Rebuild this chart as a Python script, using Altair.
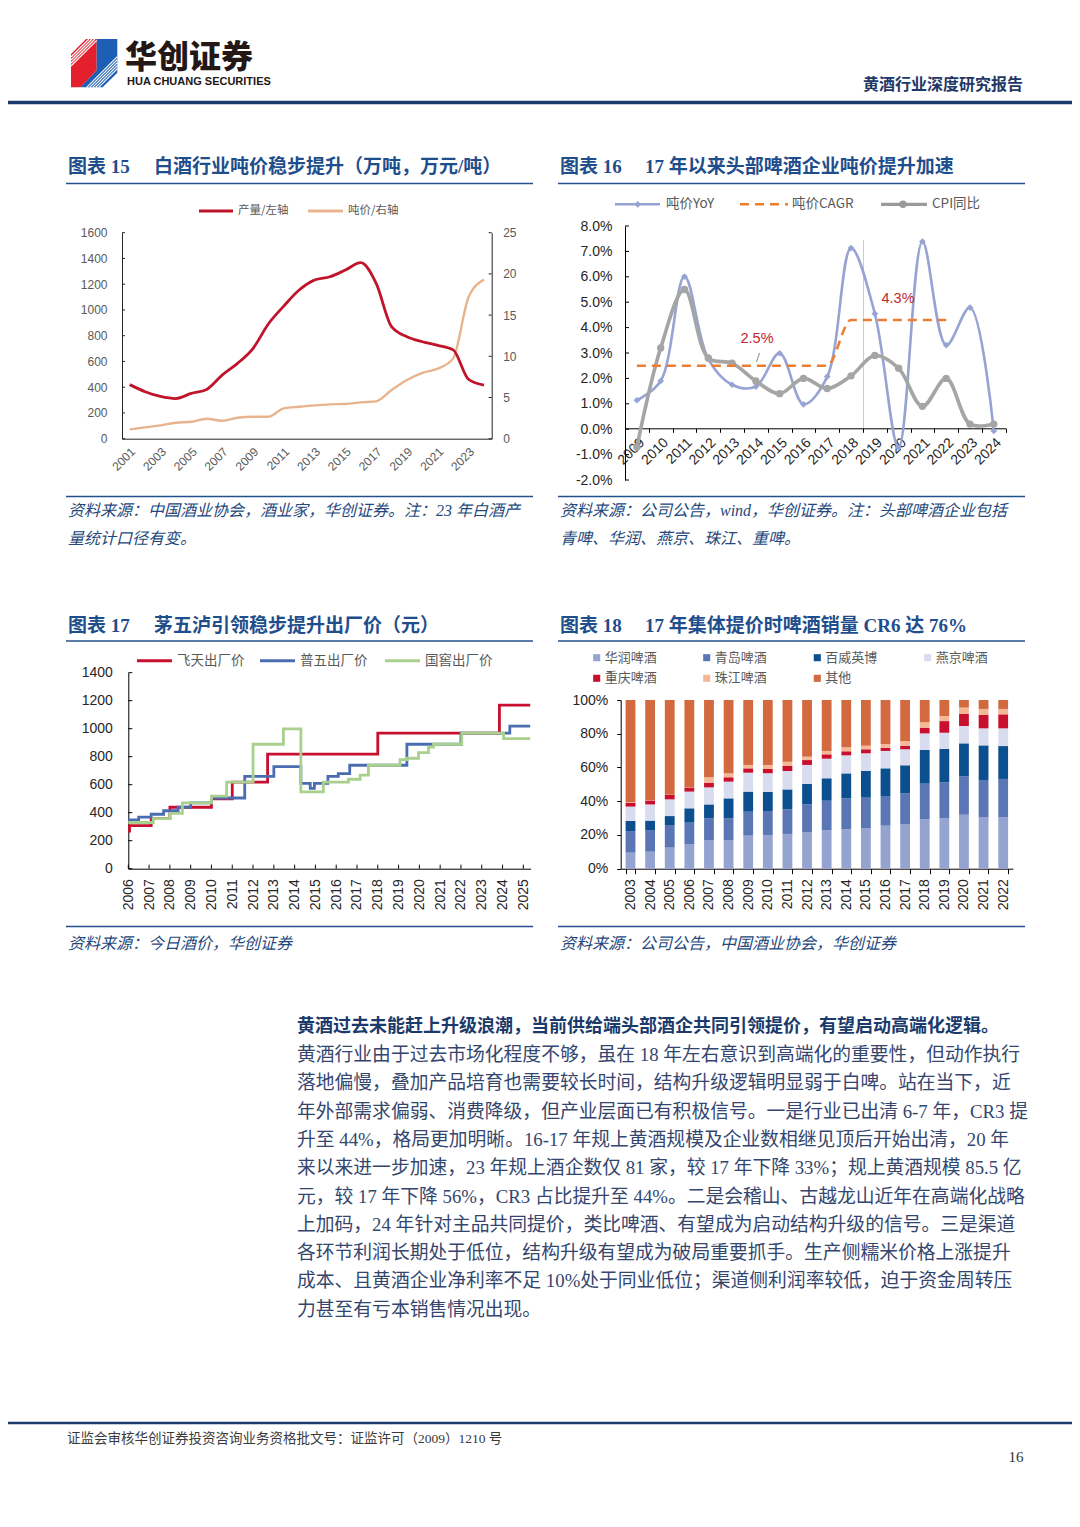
import altair as alt
import pandas as pd

W, H = 1064, 1505
CJK = "Noto Sans CJK SC"
LAT = "Liberation Sans"
SERIF_MIX = "Liberation Serif, Noto Sans CJK SC"

# ------------------------------------------------------------------ data
years15 = list(range(2001, 2025))
prod15 = [420, 365, 328, 312, 352, 383, 494, 585, 700, 891, 1030, 1155, 1232, 1258, 1310, 1367,
          1206, 870, 792, 753, 725, 690, 461, 417]
price15 = [1.13, 1.38, 1.62, 1.94, 2.06, 2.43, 2.18, 2.55, 2.67, 2.67, 3.68, 3.88, 4.05, 4.17,
           4.21, 4.41, 4.53, 5.9, 7.12, 8.0, 8.5, 9.75, 17.2, 19.3]
ticks15_left = [0, 200, 400, 600, 800, 1000, 1200, 1400, 1600]
ticks15_right = [0, 5, 10, 15, 20, 25]
labels15_x = [2001, 2003, 2005, 2007, 2009, 2011, 2013, 2015, 2017, 2019, 2021, 2023]

years16 = list(range(2009, 2025))
yoy16 = [1.14, 1.90, 6.01, 2.76, 1.75, 1.68, 2.99, 0.98, 2.07, 7.13, 4.55, -0.72, 7.39, 3.31, 4.79, -0.07]
cpi16 = [-0.7, 3.2, 5.5, 2.8, 2.6, 1.9, 1.4, 2.0, 1.6, 2.1, 2.9, 2.4, 0.9, 2.0, 0.2, 0.2]
cagr_years16 = list(range(2009, 2023))
cagr16 = [2.5, 2.5, 2.5, 2.5, 2.5, 2.5, 2.5, 2.5, 2.5, 4.3, 4.3, 4.3, 4.3, 4.3]
ticks16 = [-2, -1, 0, 1, 2, 3, 4, 5, 6, 7, 8]

feitian_t = [2006.0, 2006.06, 2007.1, 2008.0, 2010.0, 2011.0, 2012.7, 2018.0, 2023.85, 2025.33]
feitian_v = [268, 308, 358, 439, 499, 619, 819, 969, 1169, 1169]
wuliang_t = [2006.0, 2006.5, 2007.1, 2007.7, 2008.4, 2009.0, 2010.0, 2011.6, 2013.0, 2014.3, 2014.75,
             2014.95, 2015.6, 2016.1, 2016.65, 2019.4, 2022.0, 2024.35, 2025.33]
wuliang_v = [348, 368, 389, 414, 439, 470, 505, 659, 729, 609, 574, 609, 659, 679, 739, 889, 969, 1019, 1019]
guojiao_t = [2006.0, 2007.2, 2008.0, 2008.6, 2010.0, 2010.73, 2012.0, 2013.46, 2014.3, 2015.38, 2016.59,
             2017.15, 2017.55, 2019.07, 2019.4, 2019.96, 2020.44, 2020.68, 2022.04, 2024.05, 2025.33]
guojiao_v = [330, 358, 395, 470, 519, 619, 889, 999, 549, 619, 639, 669, 739, 779, 789, 829, 869, 889,
             969, 929, 929]
ticks17_y = [0, 200, 400, 600, 800, 1000, 1200, 1400]
ticks17_x = list(range(2006, 2026))

years18 = list(range(2003, 2023))
brands18 = ["华润啤酒", "青岛啤酒", "百威英博", "燕京啤酒", "重庆啤酒", "珠江啤酒", "其他"]
huarun = [9.5, 10.1, 12.5, 14.4, 17.0, 17.0, 19.6, 20.0, 20.6, 21.5, 22.9, 23.3, 24.1, 25.5, 26.5, 29.2, 29.8, 32.0, 30.4, 30.4]
qingdao = [12.8, 12.8, 13.4, 12.9, 12.8, 12.8, 14.2, 14.2, 14.6, 16.6, 17.4, 18.4, 18.0, 17.6, 18.2, 21.2, 21.4, 22.7, 22.2, 22.8]
baiwei = [6.0, 5.6, 5.3, 8.5, 8.3, 11.9, 11.9, 11.3, 11.8, 12.1, 13.3, 14.8, 15.8, 16.4, 16.6, 20.0, 19.8, 19.6, 20.5, 19.5]
yanjing = [8.5, 9.6, 9.9, 9.9, 10.1, 9.9, 11.2, 11.1, 10.9, 11.3, 11.6, 10.7, 10.5, 10.3, 9.5, 9.8, 9.6, 10.3, 10.1, 10.5]
chongqing = [2.3, 2.4, 2.6, 2.5, 2.8, 2.6, 2.6, 2.5, 3.0, 2.9, 2.6, 2.4, 2.4, 1.9, 2.1, 3.4, 6.9, 7.1, 7.9, 8.3]
zhujiang = [0.3, 0.2, 0.2, 0.2, 3.2, 2.3, 2.0, 2.4, 2.5, 2.0, 2.0, 2.4, 2.1, 2.2, 2.8, 3.2, 3.0, 3.8, 3.6, 3.2]
qita = [60.6, 59.3, 56.1, 51.6, 45.8, 43.5, 38.5, 38.5, 36.6, 33.6, 30.2, 28.0, 27.1, 26.1, 24.3, 13.2, 9.5, 4.5, 5.3, 5.3]
ticks18 = [0, 20, 40, 60, 80, 100]

body_head = "黄酒过去未能赶上升级浪潮，当前供给端头部酒企共同引领提价，有望启动高端化逻辑。"
body_lines = [
    "黄酒行业由于过去市场化程度不够，虽在 18 年左右意识到高端化的重要性，但动作执行",
    "落地偏慢，叠加产品培育也需要较长时间，结构升级逻辑明显弱于白啤。站在当下，近",
    "年外部需求偏弱、消费降级，但产业层面已有积极信号。一是行业已出清 6-7 年，CR3 提",
    "升至 44%，格局更加明晰。16-17 年规上黄酒规模及企业数相继见顶后开始出清，20 年",
    "来以来进一步加速，23 年规上酒企数仅 81 家，较 17 年下降 33%；规上黄酒规模 85.5 亿",
    "元，较 17 年下降 56%，CR3 占比提升至 44%。二是会稽山、古越龙山近年在高端化战略",
    "上加码，24 年针对主品共同提价，类比啤酒、有望成为启动结构升级的信号。三是渠道",
    "各环节利润长期处于低位，结构升级有望成为破局重要抓手。生产侧糯米价格上涨提升",
    "成本、且黄酒企业净利率不足 10%处于同业低位；渠道侧利润率较低，迫于资金周转压",
    "力甚至有亏本销售情况出现。",
]

# ------------------------------------------------------------------ helpers
def X(p):
    return p - 8


def Y(p):
    return p - 8


def off_bottom(py):
    return Y(py) - H


def off_left(px):
    return -X(px)


def off_right(px):
    return X(px) - W


layers = []


def text(s, x, y, size, color, weight="normal", align="left", font=CJK, style="normal"):
    layers.append(alt.Chart(pd.DataFrame({"t": [s]})).mark_text(
        align=align, baseline="middle", fontSize=size, font=font, color=color,
        fontWeight=weight, fontStyle=style).encode(
        x=alt.value(X(x)), y=alt.value(Y(y)), text="t:N"))


def rule(x1, y1, x2, y2, color, width=1.0, dash=None):
    kw = dict(color=color, strokeWidth=width)
    if dash:
        kw["strokeDash"] = dash
    layers.append(alt.Chart(pd.DataFrame({"k": [0]})).mark_rule(**kw).encode(
        x=alt.value(X(x1)), y=alt.value(Y(y1)), x2=alt.value(X(x2)), y2=alt.value(Y(y2))))


def symbol(x, y, shape, size, color, filled=True, stroke_w=1.0):
    kw = dict(shape=shape, size=size, opacity=1)
    if filled:
        kw.update(filled=True, color=color, strokeWidth=0)
    else:
        kw.update(filled=False, color=color, strokeWidth=stroke_w)
    layers.append(alt.Chart(pd.DataFrame({"k": [0]})).mark_point(**kw).encode(
        x=alt.value(X(x)), y=alt.value(Y(y))))


TITLE = "#1f4e8c"
RULEC = "#23508a"
SRC = "#24487c"
NAVY = "#1c3a6b"
GRAYT = "#595959"
AXC = "#262626"

# ------------------------------------------------------------------ header (logo)
cx, cy, U = 94.2, 63.0, 25.0


def up(pts):
    return "M" + "L".join(f"{(px - cx) / U:.3f},{(py - cy) / U:.3f}" for px, py in pts) + "Z"


red_poly = up([(71, 54), (86, 39), (96.7, 39), (96.7, 70.5), (80.5, 87.3), (71, 87.3)])
blue_poly = up([(96.7, 39), (117.3, 39), (117.3, 72.7), (102.7, 87.3), (80.5, 87.3), (96.7, 70.5)])
stripes = ""
for c in [128, 131, 134, 137]:
    x2 = min(c - 39, 96.7)
    stripes += f"M{(71 - cx) / U:.3f},{(c - 71 - cy) / U:.3f}L{(x2 - cx) / U:.3f},{(c - x2 - cy) / U:.3f}"
for c in [174, 177, 180, 183, 186]:
    x1 = max(c - 87.3, 80.5)
    x2 = min(c - 39, 117.3)
    stripes += f"M{(x1 - cx) / U:.3f},{(c - x1 - cy) / U:.3f}L{(x2 - cx) / U:.3f},{(c - x2 - cy) / U:.3f}"
symbol(cx, cy, red_poly, 2500, "#e5202e")
symbol(cx, cy, blue_poly, 2500, "#1d5fb4")
symbol(cx, cy, stripes, 2500, "#ffffff", filled=False, stroke_w=1.2)

text("华创证券", 125, 58, 32, "#231815", weight=900)
text("HUA CHUANG SECURITIES", 127, 81.5, 11, "#231815", weight="bold", font=LAT)
text("黄酒行业深度研究报告", 1023, 85, 16, "#1f3864", weight="bold", align="right")
rule(8, 102.5, 1072, 102.5, NAVY, 3.5)

# ------------------------------------------------------------------ section titles / rules / sources
for (lx, rx, ty, num, main) in [
    (68, 154, 167, "图表 15", "白酒行业吨价稳步提升（万吨，万元/吨）"),
    (560, 645, 167, "图表 16", "17 年以来头部啤酒企业吨价提升加速"),
    (68, 154, 626, "图表 17", "茅五泸引领稳步提升出厂价（元）"),
    (560, 645, 626, "图表 18", "17 年集体提价时啤酒销量 CR6 达 76%"),
]:
    text(num, lx, ty, 19, TITLE, weight="bold", font=SERIF_MIX)
    text(main, rx, ty, 19, TITLE, weight="bold", font=SERIF_MIX)

for x1, x2 in [(66, 533), (558, 1025)]:
    rule(x1, 183.5, x2, 183.5, RULEC, 1.6)
    rule(x1, 496.5, x2, 496.5, RULEC, 1.6)
    rule(x1, 641, x2, 641, RULEC, 1.6)
    rule(x1, 926.5, x2, 926.5, RULEC, 1.6)

SRC_SIZE = 16
text("资料来源：中国酒业协会，酒业家，华创证券。注：23 年白酒产", 68, 511, SRC_SIZE, SRC, style="italic", font=SERIF_MIX)
text("量统计口径有变。", 68, 539, SRC_SIZE, SRC, style="italic", font=SERIF_MIX)
text("资料来源：公司公告，wind，华创证券。注：头部啤酒企业包括", 560, 511, SRC_SIZE, SRC, style="italic", font=SERIF_MIX)
text("青啤、华润、燕京、珠江、重啤。", 560, 539, SRC_SIZE, SRC, style="italic", font=SERIF_MIX)
text("资料来源：今日酒价，华创证券", 68, 944, SRC_SIZE, SRC, style="italic", font=SERIF_MIX)
text("资料来源：公司公告，中国酒业协会，华创证券", 560, 944, SRC_SIZE, SRC, style="italic", font=SERIF_MIX)

# ------------------------------------------------------------------ chart 15
sx15 = alt.Scale(type="band", domain=years15, range=[X(122), X(491.7)], paddingInner=0, paddingOuter=0)
syl15 = alt.Scale(domain=[0, 1600], range=[Y(438.7), Y(232.7)], nice=False, zero=False)
syr15 = alt.Scale(domain=[0, 25], range=[Y(438.7), Y(232.7)], nice=False, zero=False)
df15 = pd.DataFrame({"year": years15, "prod": prod15, "price": price15})
ax_common = dict(grid=False, title=None, labelFont=LAT, domainColor=AXC, domainWidth=1, tickColor=AXC)

layers.append(alt.Chart(df15).mark_line(color="#e8b48e", strokeWidth=2.4, interpolate="monotone").encode(
    x=alt.X("year:O", scale=sx15, bandPosition=0.5, axis=None),
    y=alt.Y("price:Q", scale=syr15, axis=alt.Axis(
        orient="right", offset=off_right(491.7), values=ticks15_right, tickSize=0, labelPadding=11,
        labelFontSize=12, labelColor=GRAYT, **ax_common))))
layers.append(alt.Chart(df15).mark_line(color="#c0142b", strokeWidth=2.8, interpolate="monotone").encode(
    x=alt.X("year:O", scale=sx15, bandPosition=0.5, axis=alt.Axis(
        orient="bottom", offset=off_bottom(438.7), values=labels15_x, labelAngle=-45, tickSize=0,
        labelPadding=7, labelFontSize=12, labelColor=GRAYT, **ax_common)),
    y=alt.Y("prod:Q", scale=syl15, axis=alt.Axis(
        orient="left", offset=off_left(122), values=ticks15_left, tickSize=0, labelPadding=15,
        format="d", labelFontSize=12, labelColor=GRAYT, **ax_common))))
layers.append(alt.Chart(pd.DataFrame({"v": ticks15_left})).mark_rule(color=AXC, strokeWidth=1).encode(
    y=alt.Y("v:Q", scale=syl15, axis=None), x=alt.value(X(122)), x2=alt.value(X(125))))
layers.append(alt.Chart(pd.DataFrame({"v": ticks15_right})).mark_rule(color=AXC, strokeWidth=1).encode(
    y=alt.Y("v:Q", scale=syr15, axis=None), x=alt.value(X(488.7)), x2=alt.value(X(491.7))))

rule(199, 211, 233, 211, "#c0142b", 3)
text("产量/左轴", 238, 211, 11.5, GRAYT)
rule(308, 211, 343, 211, "#e8b48e", 3)
text("吨价/右轴", 348, 211, 11.5, GRAYT)

# ------------------------------------------------------------------ chart 16
YOYC, CPIC, CAGRC = "#97a3d3", "#a5a5a5", "#ed7d31"
sx16 = alt.Scale(type="band", domain=years16, range=[X(625), X(1005.7)], paddingInner=0, paddingOuter=0)
sy16 = alt.Scale(domain=[-2, 8], range=[Y(480), Y(226)], nice=False, zero=False)
df16 = pd.DataFrame({"year": years16, "yoy": yoy16, "cpi": cpi16})
dfc16 = pd.DataFrame({"year": cagr_years16, "cagr": cagr16})
ax16 = dict(grid=False, title=None, labelFont=LAT, domainColor="#000000", domainWidth=1,
            tickColor="#000000", labelColor="#262626", labelFontSize=14)

rule(863.5, 240, 863.5, 428, "#bfbfbf", 0.8)
layers.append(alt.Chart(df16).mark_line(color=YOYC, strokeWidth=2.6, interpolate="catmull-rom").encode(
    x=alt.X("year:O", scale=sx16, bandPosition=0.5, axis=alt.Axis(
        orient="bottom", offset=off_bottom(428.3), tickBand="extent", tickSize=4, labelAngle=-45,
        labelPadding=3, **ax16)),
    y=alt.Y("yoy:Q", scale=sy16, axis=alt.Axis(
        orient="left", offset=off_left(625), values=ticks16, tickSize=0, labelPadding=13,
        labelExpr="replace(format(datum.value, '.1f'), '\u2212', '-') + '%'", **ax16))))
layers.append(alt.Chart(df16).mark_point(shape="diamond", filled=True, size=45, color=YOYC, opacity=1).encode(
    x=alt.X("year:O", scale=sx16, bandPosition=0.5, axis=None),
    y=alt.Y("yoy:Q", scale=sy16, axis=None)))
layers.append(alt.Chart(df16).mark_line(color=CPIC, strokeWidth=3.6, interpolate="catmull-rom").encode(
    x=alt.X("year:O", scale=sx16, bandPosition=0.5, axis=None),
    y=alt.Y("cpi:Q", scale=sy16, axis=None)))
layers.append(alt.Chart(df16).mark_point(shape="circle", filled=True, size=55, color=CPIC, opacity=1).encode(
    x=alt.X("year:O", scale=sx16, bandPosition=0.5, axis=None),
    y=alt.Y("cpi:Q", scale=sy16, axis=None)))
layers.append(alt.Chart(dfc16).mark_line(color=CAGRC, strokeWidth=2.6, strokeDash=[9, 6],
                                         interpolate="monotone").encode(
    x=alt.X("year:O", scale=sx16, bandPosition=0.5, axis=None),
    y=alt.Y("cagr:Q", scale=sy16, axis=None)))
layers.append(alt.Chart(pd.DataFrame({"v": ticks16})).mark_rule(color="#000000", strokeWidth=1).encode(
    y=alt.Y("v:Q", scale=sy16, axis=None), x=alt.value(X(625)), x2=alt.value(X(629))))

text("2.5%", 757, 339, 14.5, "#c0272d", align="center", font=LAT)
text("4.3%", 898, 299, 14.5, "#c0272d", align="center", font=LAT)
rule(756.5, 362, 759.5, 353, "#8c8c8c", 1)

rule(615, 204.3, 660, 204.3, YOYC, 2.6)
symbol(637.7, 204.3, "diamond", 45, YOYC)
text("吨价YoY", 666, 204.3, 13.5, GRAYT)
rule(740, 204.3, 788, 204.3, CAGRC, 2.6, dash=[9, 6])
text("吨价CAGR", 792, 204.3, 13.5, GRAYT)
rule(881, 204.3, 927, 204.3, "#9a9a9a", 3.2)
symbol(903, 204.3, "circle", 55, "#9a9a9a")
text("CPI同比", 932, 204.3, 13.5, GRAYT)

# ------------------------------------------------------------------ chart 17
sx17 = alt.Scale(domain=[2006, 2025.35], range=[X(128.3), X(530.6)], nice=False, zero=False)
sy17 = alt.Scale(domain=[0, 1400], range=[Y(868.7), Y(672.7)], nice=False, zero=False)
ax17 = dict(grid=False, title=None, labelFont=LAT, domainColor="#000000", domainWidth=1,
            tickColor="#000000", labelColor="#262626", labelFontSize=14)
series17 = [("飞天出厂价", feitian_t, feitian_v, "#c8102e"),
            ("普五出厂价", wuliang_t, wuliang_v, "#4a6cb0"),
            ("国窖出厂价", guojiao_t, guojiao_v, "#a9d18e")]
for i, (name, ts, vs, col) in enumerate(series17):
    d = pd.DataFrame({"t": ts, "v": vs})
    if i == 0:
        xax = alt.Axis(orient="bottom", offset=off_bottom(868.7), values=ticks17_x, format="d",
                       labelAngle=-90, tickSize=0, labelPadding=10, **ax17)
        yax = alt.Axis(orient="left", offset=off_left(128.3), values=ticks17_y, format="d",
                       tickSize=0, labelPadding=16, **ax17)
    else:
        xax = None
        yax = None
    layers.append(alt.Chart(d).mark_line(color=col, strokeWidth=2.8, interpolate="step-after").encode(
        x=alt.X("t:Q", scale=sx17, axis=xax), y=alt.Y("v:Q", scale=sy17, axis=yax)))
layers.append(alt.Chart(pd.DataFrame({"v": ticks17_y})).mark_rule(color="#000000", strokeWidth=1).encode(
    y=alt.Y("v:Q", scale=sy17, axis=None), x=alt.value(X(128.3)), x2=alt.value(X(132.3))))
layers.append(alt.Chart(pd.DataFrame({"v": ticks17_x})).mark_rule(color="#000000", strokeWidth=1).encode(
    x=alt.X("v:Q", scale=sx17, axis=None), y=alt.value(Y(864.7)), y2=alt.value(Y(868.7))))

for (x0, name, col) in [(137, "飞天出厂价", "#c8102e"), (260, "普五出厂价", "#4a6cb0"), (385, "国窖出厂价", "#a9d18e")]:
    rule(x0, 660.7, x0 + 35, 660.7, col, 3)
    text(name, x0 + 40, 660.7, 13.5, GRAYT)

# ------------------------------------------------------------------ chart 18
colors18 = ["#95a3d1", "#5a76b5", "#0b4f8e", "#d9dcee", "#c8102e", "#f4b896", "#d2693f"]
sx18 = alt.Scale(type="band", domain=years18, range=[X(620.7), X(1013)], paddingInner=0.5, paddingOuter=0.25)
sy18 = alt.Scale(domain=[0, 100], range=[Y(868.7), Y(700)], nice=False, zero=True)
rows = []
for k, (b, vals) in enumerate(zip(brands18, [huarun, qingdao, baiwei, yanjing, chongqing, zhujiang, qita])):
    for yr, v in zip(years18, vals):
        rows.append({"year": yr, "brand": b, "k": k, "v": v})
df18 = pd.DataFrame(rows)
layers.append(alt.Chart(df18).mark_bar().encode(
    x=alt.X("year:O", scale=sx18, axis=alt.Axis(
        orient="bottom", offset=off_bottom(868.7), tickBand="extent", tickSize=5, labelAngle=-90,
        labelPadding=5, **ax17)),
    y=alt.Y("v:Q", stack="zero", scale=sy18, axis=alt.Axis(
        orient="left", offset=off_left(620.7), values=ticks18, tickSize=4, labelPadding=9,
        labelExpr="datum.value + '%'", **ax17)),
    color=alt.Color("brand:N", scale=alt.Scale(domain=brands18, range=colors18), legend=None),
    order=alt.Order("k:Q", sort="ascending")))

leg_pos = [(596.7, 657.7), (706.7, 657.7), (817.3, 657.7), (927.7, 657.7),
           (596.7, 678.3), (706.7, 678.3), (817.3, 678.3)]
for (lx, ly), b, col in zip(leg_pos, brands18, colors18):
    symbol(lx, ly, "square", 50, col)
    text(b, lx + 8, ly, 13, GRAYT)

# ------------------------------------------------------------------ body text
text(body_head, 297, 1027, 18, "#1a3a6b", weight="bold", font=SERIF_MIX)
dfb = pd.DataFrame({"i": list(range(len(body_lines))), "t": body_lines})
layers.append(alt.Chart(dfb).mark_text(align="left", baseline="middle", fontSize=18.8, font=SERIF_MIX,
                                       color="#34466e").encode(
    x=alt.value(X(297)),
    y=alt.Y("i:O", scale=alt.Scale(type="point", domain=list(range(len(body_lines))),
                                   range=[Y(1055), Y(1055 + 9 * 28.3)], padding=0), axis=None),
    text="t:N"))

# ------------------------------------------------------------------ footer
rule(8, 1423, 1072, 1423, NAVY, 2.5)
text("证监会审核华创证券投资咨询业务资格批文号：证监许可（2009）1210 号", 67, 1439, 13.5, "#3a3a3a", font=SERIF_MIX)
text("16", 1016, 1457, 15, "#333333", align="center", font="Liberation Serif")

chart = alt.layer(*layers).resolve_scale(
    x="independent", y="independent", color="independent"
).properties(
    width=W, height=H, padding=0, autosize=alt.AutoSizeParams(type="none")
).configure_view(stroke=None)

chart.save("out.html", embed_options={"renderer": "svg", "actions": False})
